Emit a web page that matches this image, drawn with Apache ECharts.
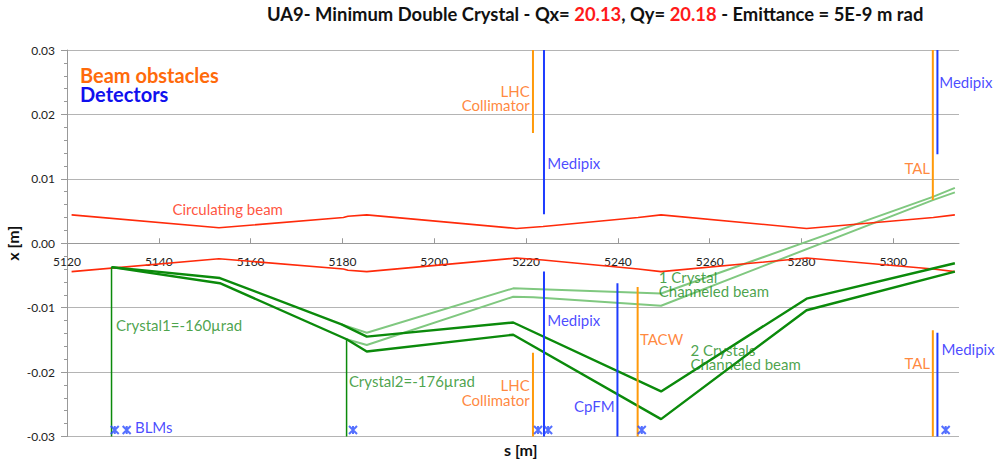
<!DOCTYPE html>
<html><head><meta charset="utf-8">
<script src="https://cdn.jsdelivr.net/npm/echarts@6/dist/echarts.min.js"></script>
<style>html,body{margin:0;padding:0;background:#fff}#c{width:999px;height:459px}</style>
</head><body><div id="c"></div>
<script>
// ---- data ----
const beamS      = [5121.0, 5153.1, 5180.2, 5181.2, 5185.3, 5217.9, 5223.7, 5244.4, 5249.4, 5281.1, 5308.7, 5313.4];
const beamUpper  = [0.0044, 0.0024, 0.0040, 0.0042, 0.0044, 0.0023, 0.0026, 0.0040, 0.0044, 0.0023, 0.0040, 0.0044];
const beamLower  = [-0.0044, -0.0024, -0.0040, -0.0042, -0.0044, -0.0023, -0.0026, -0.0040, -0.0044, -0.0023, -0.0040, -0.0044];

const twoCrysUpS = [5129.7, 5153.3, 5179.8, 5185.3, 5217.2, 5249.4, 5281.1, 5313.4];
const twoCrysUp  = [-0.0037, -0.0054, -0.0126, -0.0145, -0.0123, -0.0230, -0.0086, -0.0031];
const twoCrysLoS = [5129.7, 5153.3, 5180.9, 5185.3, 5217.2, 5249.4, 5281.1, 5313.4];
const twoCrysLo  = [-0.0037, -0.0062, -0.0149, -0.0168, -0.0142, -0.0273, -0.0104, -0.0044];

const oneCrysUpS = [5179.8, 5185.3, 5217.2, 5221.6, 5249.4, 5308.6, 5313.4];
const oneCrysUp  = [-0.0126, -0.0139, -0.0070, -0.0071, -0.0078, 0.0072, 0.0086];
const oneCrysLoS = [5180.9, 5185.3, 5217.2, 5221.6, 5249.4, 5308.6, 5313.4];
const oneCrysLo  = [-0.0149, -0.0158, -0.0083, -0.0084, -0.0097, 0.0067, 0.0079];

const obstacleS    = [5221.5, 5221.5, 5244.3, 5308.6, 5308.6];
const obstacleFrom = [0.03, -0.0170, -0.0068, 0.03, -0.0135];
const obstacleTo   = [0.0171, -0.03, -0.03, 0.0067, -0.03];

const detectorS    = [5223.9, 5223.9, 5239.9, 5309.6, 5309.6];
const detectorFrom = [0.03, -0.0044, -0.0062, 0.03, -0.0139];
const detectorTo   = [0.0045, -0.03, -0.03, 0.0138, -0.03];

const crystalS    = [5129.7, 5180.9];
const crystalFrom = [-0.0037, -0.0149];
const crystalTo   = [-0.03, -0.03];

const blmS = [5130.4, 5133.0, 5182.3, 5222.6, 5224.8, 5245.2, 5311.4];
const blmX = [-0.029, -0.029, -0.029, -0.029, -0.029, -0.029, -0.029];

const xTicks = [5120, 5140, 5160, 5180, 5200, 5220, 5240, 5260, 5280, 5300];

// annotations: text, s, x
const annoText = ['Circulating beam', 'LHC\nCollimator', 'Medipix', 'TAL', 'Medipix',
  'Crystal1=-160\u00b5rad', 'Crystal2=-176\u00b5rad', 'LHC\nCollimator', 'Medipix', 'CpFM', 'TACW',
  '1 Crystal\nChanneled beam', '2 Crystals\nChanneled beam', 'TAL', 'Medipix', 'BLMs'];
const annoS = [5155.0, 5220.8, 5224.6, 5308.0, 5310.0, 5130.7, 5181.4, 5220.8, 5224.6, 5239.3, 5244.8,
  5248.9, 5255.8, 5308.0, 5310.5, 5134.8];
const annoX = [0.00533, 0.02256, 0.01247, 0.0117, 0.0250, -0.01269, -0.02138, -0.02317, -0.0119, -0.02522, -0.01486,
  -0.00629, -0.01766, -0.01863, -0.01641, -0.02857];
const annoKind = ['beam', 'obs', 'det', 'obs', 'det', 'cry', 'cry', 'obs', 'det', 'det', 'obs', 'cry', 'cry', 'obs', 'det', 'det'];
const annoAlign = ['center', 'right', 'left', 'right', 'left', 'left', 'left', 'right', 'left', 'right', 'left', 'left', 'left', 'right', 'left', 'left'];

// ---- styles ----
const RED = '#ff2a0a', ORANGE_LINE = '#ff9a0a', ORANGE_TXT = '#ff6a0a', BLUE_LINE = '#1e3cff', BLUE_TXT = '#1a1aff';
const DKGREEN = '#0b8a0b', LTGREEN = '#80c880', GREEN_TXT = '#1c8c1c';
const FONT = 'Lato';
const txtColor = {beam: RED, obs: ORANGE_TXT, det: BLUE_TXT, cry: GREEN_TXT};
const GRID = {left: 67, right: 40, top: 50, bottom: 22.5};
const CHART_H = 459;

const zip = (a, b) => a.map((v, i) => [v, b[i]]);
const lineSeries = (xs, ys, color, width, z) => ({
  type: 'line', data: zip(xs, ys), showSymbol: false, symbol: 'none', silent: true, z: z,
  lineStyle: {color: color, width: width}, animation: false
});

const series = [];
series.push(lineSeries(beamS, beamUpper, RED, 1.6, 3));
series.push(lineSeries(beamS, beamLower, RED, 1.6, 3));
series.push(lineSeries(oneCrysUpS, oneCrysUp, LTGREEN, 2, 2));
series.push(lineSeries(oneCrysLoS, oneCrysLo, LTGREEN, 2, 2));
series.push(lineSeries(twoCrysUpS, twoCrysUp, DKGREEN, 2.4, 4));
series.push(lineSeries(twoCrysLoS, twoCrysLo, DKGREEN, 2.4, 4));
obstacleS.forEach((s, i) => series.push(lineSeries([s, s], [obstacleFrom[i], obstacleTo[i]], ORANGE_LINE, 2, 5)));
detectorS.forEach((s, i) => series.push(lineSeries([s, s], [detectorFrom[i], detectorTo[i]], BLUE_LINE, 2, 5)));
crystalS.forEach((s, i) => series.push(lineSeries([s, s], [crystalFrom[i], crystalTo[i]], DKGREEN, 1.5, 5)));

series.push({
  type: 'scatter', data: zip(blmS, blmX), z: 6, animation: false,
  symbol: 'path://M0,0L10,10M10,0L0,10M5,0L5,10', symbolSize: 8,
  itemStyle: {color: 'rgba(0,0,0,0)', borderColor: '#2a4cff', borderWidth: 2}
});

series.push({
  type: 'scatter', z: 10, animation: false, symbolSize: 0, silent: true,
  data: annoText.map((t, i) => ({
    value: [annoS[i], annoX[i]],
    label: {
      show: true, formatter: t, position: [0, 0], align: annoAlign[i], verticalAlign: 'middle',
      color: txtColor[annoKind[i]], fontFamily: FONT, fontSize: 15, lineHeight: 14.5
    }
  }))
});

// x axis sits at x = 0, i.e. in the middle of the symmetric y range
const gridH = CHART_H - GRID.top - GRID.bottom;

const chart = echarts.init(document.getElementById('c'), null, {renderer: 'svg'});
chart.setOption({
  animation: false,
  backgroundColor: '#fff',
  title: [
    {
      text: '{k|UA9- Minimum Double Crystal - Qx= }{r|20.13}{k|, Qy= }{r|20.18}{k| - Emittance = 5E-9 m rad}',
      left: 267, top: 5, padding: 0,
      textStyle: {rich: {
        k: {fontFamily: FONT, fontWeight: 'bold', fontSize: 18.4, color: '#111'},
        r: {fontFamily: FONT, fontWeight: 'bold', fontSize: 18.4, color: '#ff1a1a'}
      }}
    },
    {text: 'Beam obstacles', left: 80, top: 65, padding: 0, textStyle: {fontFamily: FONT, fontWeight: 'bold', fontSize: 20, color: ORANGE_TXT}},
    {text: 'Detectors', left: 80, top: 84, padding: 0, textStyle: {fontFamily: FONT, fontWeight: 'bold', fontSize: 20, color: '#1010ee'}},
    {text: 's [m]', left: 504, top: 441.5, padding: 0, textStyle: {fontFamily: FONT, fontWeight: 'bold', fontSize: 16, color: '#111'}}
  ],
  grid: Object.assign({containLabel: false, outerBoundsMode: 'none'}, GRID),
  xAxis: {
    type: 'value', min: 5120, max: 5314.3, interval: 20,
    offset: -gridH / 2,
    axisLine: {show: true, onZero: false, lineStyle: {color: '#999', width: 1}},
    axisTick: {show: true, inside: true, length: 5, lineStyle: {color: '#999'}},
    axisLabel: {
      margin: 12, fontFamily: FONT, fontSize: 12, color: '#222', showMaxLabel: false,
      formatter: v => (xTicks.indexOf(Math.round(v * 1000) / 1000) >= 0 ? String(v) : '')
    },
    splitLine: {show: false}
  },
  yAxis: {
    type: 'value', min: -0.03, max: 0.03, interval: 0.01,
    name: 'x [m]', nameLocation: 'middle', nameRotate: 90, nameGap: 47, nameMoveOverlap: false,
    nameTextStyle: {fontFamily: FONT, fontWeight: 'bold', fontSize: 16, color: '#111'},
    axisLine: {show: true, onZero: false, lineStyle: {color: '#999', width: 1}},
    axisTick: {show: true, inside: false, length: 6, lineStyle: {color: '#999'}},
    minorTick: {show: true, splitNumber: 5, length: 3, lineStyle: {color: '#999'}},
    axisLabel: {margin: 12, fontFamily: FONT, fontSize: 12, color: '#222', formatter: v => v.toFixed(2)},
    splitLine: {show: true, lineStyle: {color: '#b4b4b4', width: 1}}
  },
  series: series
});
</script></body></html>
